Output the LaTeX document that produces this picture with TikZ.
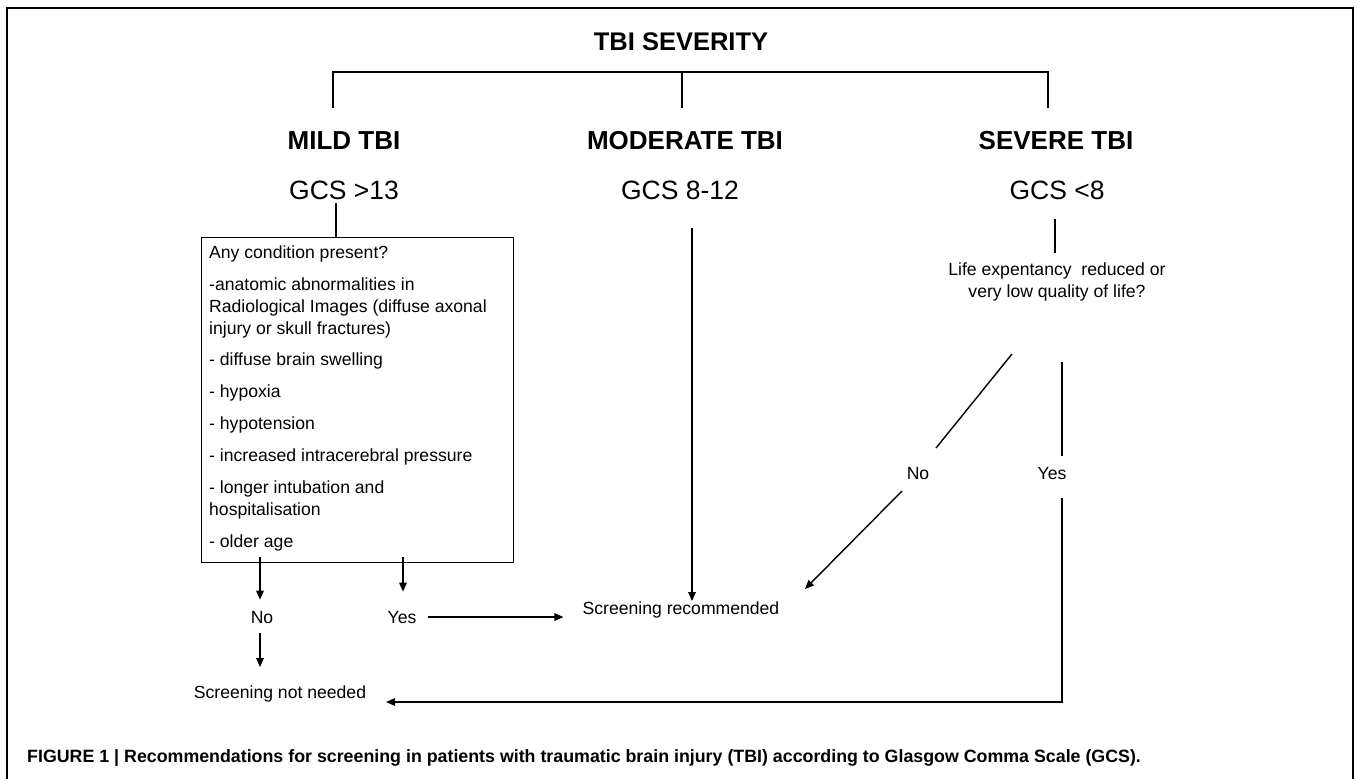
\documentclass[tikz,border=0pt]{standalone}
\usepackage{fontspec}
\setmainfont{Liberation Sans}
\usetikzlibrary{arrows.meta}
\tikzset{
  ln/.style={line width=1.4pt, line cap=butt},
  arr/.style={ln, -{Triangle[length=9pt,width=7.5pt]}},
  hd/.style={font=\fontsize{26}{30}\selectfont\bfseries, inner sep=0pt, anchor=base},
  gcs/.style={font=\fontsize{26.5}{30}\selectfont, inner sep=0pt, anchor=base},
  txt/.style={font=\fontsize{17.6}{22}\selectfont, inner sep=0pt, anchor=base},
  ltxt/.style={txt, anchor=base west},
}
\begin{document}
\begin{tikzpicture}[x=1pt,y=-1pt]
\useasboundingbox (0,0) rectangle (1355,779);
% frame
\draw[line width=1.5pt] (7,779) -- (7,8) -- (1353,8) -- (1353,779);

% headings
\node[hd, font=\fontsize{25.5}{30}\selectfont\bfseries] (title) at (681,50) {TBI SEVERITY};
\node[hd] (mild) at (344,149) {MILD TBI};
\node[hd] (mod)  at (685,149) {MODERATE TBI};
\node[hd] (sev)  at (1056,149) {SEVERE TBI};
\node[gcs] (gmild) at (344,199) {GCS >13};
\node[gcs] (gmod)  at (680,199) {GCS 8-12};
\node[gcs] (gsev)  at (1057,199) {GCS <8};

% top bracket
\coordinate (barL) at (333,72);
\coordinate (barM) at (682,72);
\coordinate (barR) at (1048,72);
\coordinate (mildT) at (333,108);
\coordinate (modT) at (682,108);
\coordinate (sevT) at (1048,108);
\draw[ln] (mildT) -- (barL) -- (barR) -- (sevT);
\draw[ln] (barM) -- (modT);

% mild box
\node[draw, ln, anchor=north west, minimum width=312pt, minimum height=325pt, inner sep=0pt] (box) at (201,237) {};
\coordinate (gm1) at (336,203);
\draw[ln] (gm1) -- (gm1 |- box.north);

\foreach \t/\y [count=\i] in {
  {Any condition present?}/258,
  {-anatomic abnormalities in}/290,
  {Radiological Images (diffuse axonal}/312,
  {injury or skull fractures)}/334,
  {- diffuse brain swelling}/365,
  {- hypoxia}/397,
  {- hypotension}/429,
  {- increased intracerebral pressure}/461,
  {- longer intubation and}/493,
  {hospitalisation}/515,
  {- older age}/547}
  \node[ltxt] (c\i) at (209,\y) {\t};

% labels
\node[txt] (no1)  at (262,623) {No};
\node[txt] (yes1) at (402,623) {Yes};
\node[txt] (screc) at (681,614) {Screening recommended};
\node[txt] (scnot) at (280,698) {Screening not needed};
\node[txt] (life1) at (1057,275) {Life expentancy~ reduced or};
\node[txt] (life2) at (1057,297) {very low quality of life?};
\node[txt] (no2)  at (918,479) {No};
\node[txt] (yes2) at (1052,479) {Yes};

% mild branch
\coordinate (bn) at (260,557);
\coordinate (by) at (403,557);
\draw[arr, shorten >=11pt] (bn) -- (bn |- no1.north);
\draw[arr, shorten >=19pt] (by) -- (by |- yes1.north);
\draw[arr, shorten <=11pt, shorten >=19pt] (yes1.east) -- (yes1.east -| screc.west);
\draw[arr, shorten <=10pt, shorten >=18pt] (no1.south -| bn) -- (scnot.north -| bn);

% moderate branch
\coordinate (gmod1) at (692,228);
\draw[arr] (gmod1) -- (gmod1 |- screc.north);

% severe branch
\coordinate (gs1) at (1055,219);
\draw[ln, shorten >=9pt] (gs1) -- (gs1 |- life1.north);
\coordinate (d1) at (1012,354);
\coordinate (d2) at (936,448);
\coordinate (d3) at (902,491);
\coordinate (d4) at (805,589);
\draw[ln] (d1) -- (d2);
\draw[arr] (d3) -- (d4);
\coordinate (y1) at (1062,362);
\coordinate (y2) at (1062,456);
\coordinate (y3) at (1062,498);
\coordinate (y4) at (1062,702);
\coordinate (y5) at (386,702);
\draw[ln] (y1) -- (y2);
\draw[arr] (y3) -- (y4) -- (y5);

% caption
\node[anchor=base west, font=\fontsize{17.8}{20}\selectfont\bfseries, inner sep=0pt] (cap) at (27,762)
  {FIGURE 1 | Recommendations for screening in patients with traumatic brain injury (TBI) according to Glasgow Comma Scale (GCS).};
\end{tikzpicture}
\end{document}
